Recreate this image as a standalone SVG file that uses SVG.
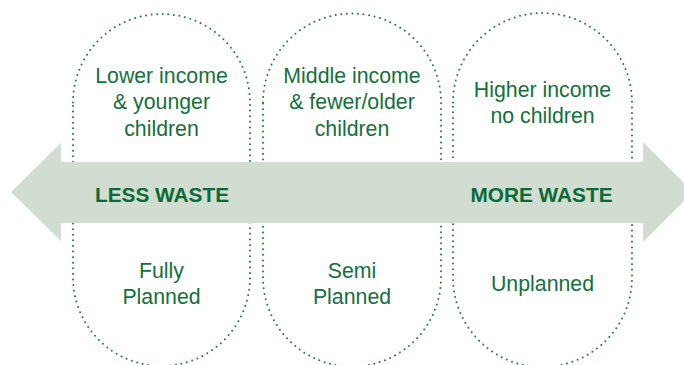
<svg xmlns="http://www.w3.org/2000/svg" width="684" height="365" viewBox="0 0 684 365">
  <style>
    .pill { fill: none; stroke: #1b7a44; stroke-width: 2; stroke-linecap: round; stroke-dasharray: 0 5.6; }
    .arrow { fill: #d1ddd0; }
    .lbl { font-family: "Liberation Sans", Arial, sans-serif; font-size: 21.3px; fill: #14703c; text-anchor: middle; }
    .big { font-family: "Liberation Sans", Arial, sans-serif; font-size: 20.8px; font-weight: bold; fill: #0b6a35; text-anchor: middle; }
  </style>

  <!-- dotted stadium outlines -->
  <g id="group-low">
    <path class="pill" d="M73,102.5 A88.5,88.5 0 0 1 250,102.5 L250,277.5 A88.5,88.5 0 0 1 73,277.5 Z"/>
  </g>
  <g id="group-mid">
    <path class="pill" d="M263,102.5 A89,89 0 0 1 441,102.5 L441,277.5 A89,89 0 0 1 263,277.5 Z"/>
  </g>
  <g id="group-high">
    <path class="pill" d="M453,102.5 A89.5,89.5 0 0 1 632,102.5 L632,277.5 A89.5,89.5 0 0 1 453,277.5 Z"/>
  </g>

  <!-- double-headed waste scale -->
  <g id="connectors">
    <polygon class="arrow" points="11,192 61,143 61,162 643,162 643,142 693,192 643,242 643,223 61,223 61,241"/>
  </g>

  <g id="labels-top">
    <text class="lbl" x="161.5" y="83">Lower income</text>
    <text class="lbl" x="161.5" y="109">&amp; younger</text>
    <text class="lbl" x="161.5" y="136">children</text>
    <text class="lbl" x="352" y="83">Middle income</text>
    <text class="lbl" x="352" y="109">&amp; fewer/older</text>
    <text class="lbl" x="352" y="136">children</text>
    <text class="lbl" x="542.5" y="97">Higher income</text>
    <text class="lbl" x="542.5" y="123">no children</text>
  </g>

  <g id="labels-scale">
    <text class="big" x="162" y="202">LESS WASTE</text>
    <text class="big" x="541.5" y="202">MORE WASTE</text>
  </g>

  <g id="labels-bottom">
    <text class="lbl" x="161.5" y="278">Fully</text>
    <text class="lbl" x="161.5" y="304">Planned</text>
    <text class="lbl" x="352" y="278">Semi</text>
    <text class="lbl" x="352" y="304">Planned</text>
    <text class="lbl" x="542.5" y="291">Unplanned</text>
  </g>
</svg>
